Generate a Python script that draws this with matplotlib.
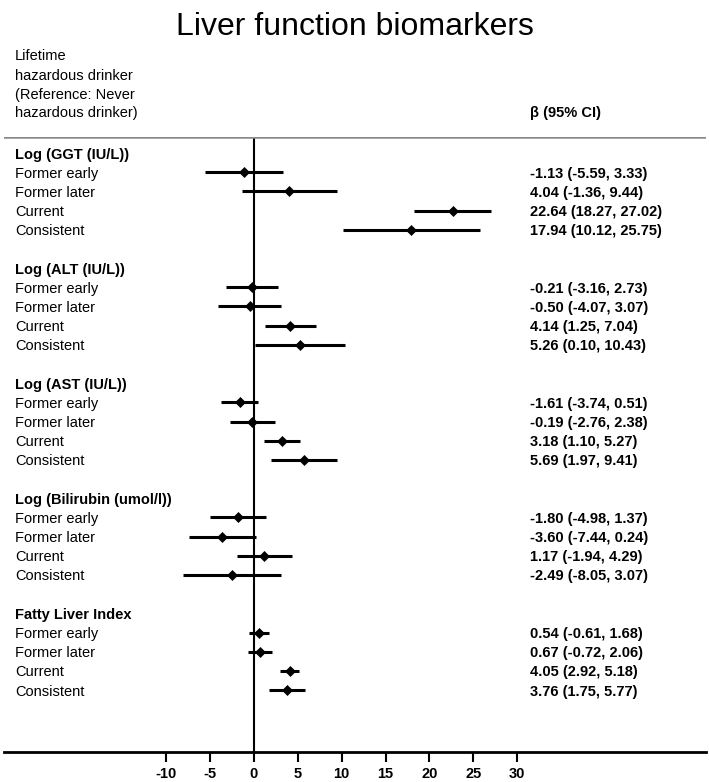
import matplotlib.pyplot as plt
from matplotlib.transforms import blended_transform_factory

plt.rcParams['font.family'] = ['Liberation Sans', 'DejaVu Sans']

# outcomes and exposure groups
outcomes = ["Log (GGT (IU/L))", "Log (ALT (IU/L))", "Log (AST (IU/L))",
            "Log (Bilirubin (umol/l))", "Fatty Liver Index"]
groups = ["Former early", "Former later", "Current", "Consistent"]

# beta and 95% CI, one list per outcome
ggt_est = [-1.13, 4.04, 22.64, 17.94]
ggt_lo = [-5.59, -1.36, 18.27, 10.12]
ggt_hi = [3.33, 9.44, 27.02, 25.75]

alt_est = [-0.21, -0.50, 4.14, 5.26]
alt_lo = [-3.16, -4.07, 1.25, 0.10]
alt_hi = [2.73, 3.07, 7.04, 10.43]

ast_est = [-1.61, -0.19, 3.18, 5.69]
ast_lo = [-3.74, -2.76, 1.10, 1.97]
ast_hi = [0.51, 2.38, 5.27, 9.41]

bil_est = [-1.80, -3.60, 1.17, -2.49]
bil_lo = [-4.98, -7.44, -1.94, -8.05]
bil_hi = [1.37, 0.24, 4.29, 3.07]

fli_est = [0.54, 0.67, 4.05, 3.76]
fli_lo = [-0.61, -0.72, 2.92, 1.75]
fli_hi = [1.68, 2.06, 5.18, 5.77]

all_est = [ggt_est, alt_est, ast_est, bil_est, fli_est]
all_lo = [ggt_lo, alt_lo, ast_lo, bil_lo, fli_lo]
all_hi = [ggt_hi, alt_hi, ast_hi, bil_hi, fli_hi]

xticks = [-10, -5, 0, 5, 10, 15, 20, 25, 30]

W, H = 709, 782
fig = plt.figure(figsize=(W / 100, H / 100), dpi=100)
ax = fig.add_axes([3.5 / W, 30 / H, 702 / W, 615 / H])

row_px = 19.18
ax.set_ylim(599 / row_px, -16 / row_px)
ax.set_xlim((3.5 - 254) / 8.77, (705.5 - 254) / 8.77)

tr = blended_transform_factory(fig.transFigure, ax.transData)
fs = 10.5

row = 0
for k, name in enumerate(outcomes):
    ax.text(15 / W, row, name, transform=tr, fontsize=fs, fontweight='bold',
            va='center_baseline', ha='left')
    for i, g in enumerate(groups):
        r = row + 1 + i
        e, lo, hi = all_est[k][i], all_lo[k][i], all_hi[k][i]
        ax.plot([lo, hi], [r, r], color='black', lw=2.2, solid_capstyle='butt', zorder=3)
        ax.plot([e], [r], marker='D', ms=4.8, color='black', mew=0.5, zorder=4)
        ax.text(15 / W, r, g, transform=tr, fontsize=fs, va='center_baseline', ha='left')
        ax.text(530 / W, r, f"{e:.2f} ({lo:.2f}, {hi:.2f})", transform=tr, fontsize=fs,
                fontweight='bold', va='center_baseline', ha='left')
    row += 6

ax.axvline(0, color='black', lw=1.5, zorder=2)
ax.axhline(-16 / row_px, color='#8a8a8a', lw=1.8, zorder=5)

for s in ['top', 'right', 'left']:
    ax.spines[s].set_visible(False)
ax.spines['bottom'].set_linewidth(2)
ax.set_yticks([])
ax.set_xticks(xticks)
ax.set_xticklabels([str(t) for t in xticks], fontweight='bold')
ax.tick_params(axis='x', length=7, width=1.5, labelsize=fs, pad=3.5)

# header
header = ["Lifetime", "hazardous drinker", "(Reference: Never", "hazardous drinker)"]
for j, line in enumerate(header):
    fig.text(15 / W, 1 - (55 + 19 * j) / H, line, fontsize=fs, va='center_baseline', ha='left')
fig.text(530 / W, 1 - 112 / H, "β (95% CI)", fontsize=fs, fontweight='bold',
         va='center_baseline', ha='left')

fig.text(0.5, 1 - 35 / H, "Liver function biomarkers", fontsize=23,
         ha='center', va='baseline')

fig.savefig("out.png", dpi=100)
